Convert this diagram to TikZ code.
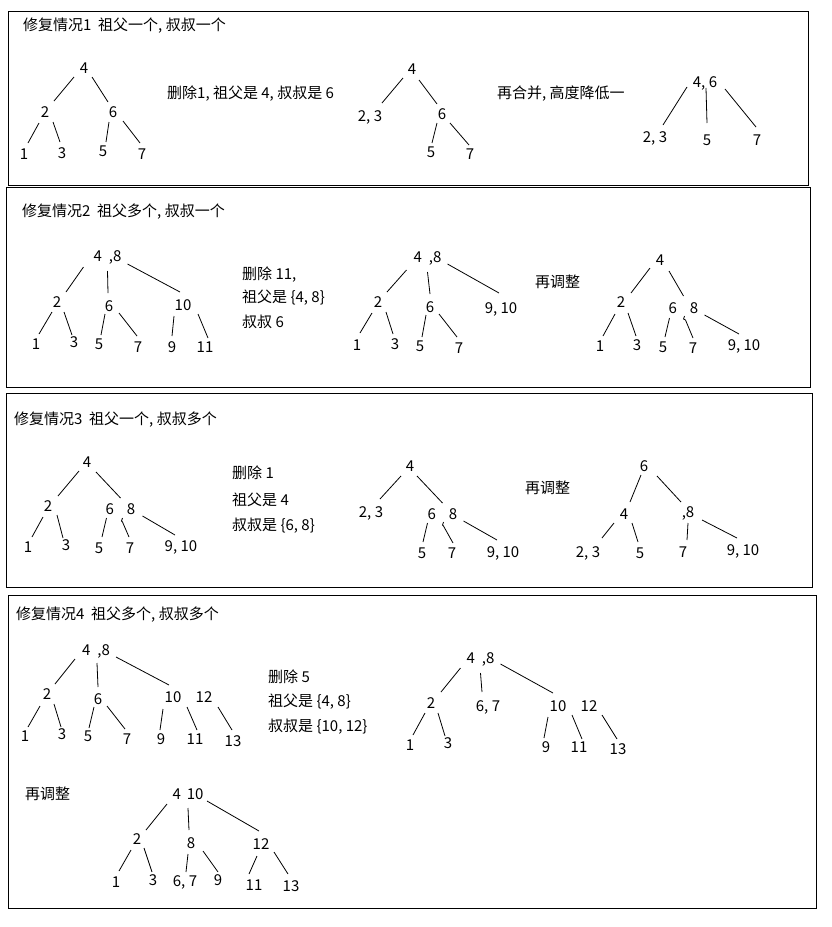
\documentclass[tikz,border=0pt]{standalone}
\usepackage{fontspec}
\setmainfont{Noto Sans CJK SC}
\newcommand\fs{\fontsize{15}{18}\selectfont}
\newcommand\linkab[4]{\draw[edge] ([shift={(#2)}]#1.center) -- ([shift={(#4)}]#3.center);}
\tikzset{
  num/.style={inner sep=0pt, font=\fs},
  txt/.style={inner sep=0pt, anchor=west, font=\fs},
  edge/.style={line width=0.8pt, black},
  frame/.style={line width=1pt, black}
}
\begin{document}
\begin{tikzpicture}[x=1pt,y=-1pt]
\useasboundingbox (0,0) rectangle (832,927);
\fill[white] (0,0) rectangle (832,927);
% frames
\draw[frame] (8,11) rectangle (808,185);
\draw[frame] (6,187) rectangle (810,387);
\draw[frame] (6,393) rectangle (812,587);
\draw[frame] (8,595) rectangle (816,908);

% ===== Box 1 =====
\node[txt] (title1) at (23,26) {修复情况1\ \ 祖父一个, 叔叔一个};
\node[num] (a4) at (84,68) {4};
\node[num] (a2) at (45,112) {2};
\node[num] (a6) at (113,112) {6};
\node[num] (a1) at (24,154) {1};
\node[num] (a3) at (62,153) {3};
\node[num] (a5) at (103,151) {5};
\node[num] (a7) at (142,154) {7};
\linkab{a4}{-10,9}{a2}{9,-11}
\linkab{a4}{8,9}{a6}{-5,-10}
\linkab{a2}{-6,11}{a1}{4,-11}
\linkab{a2}{8,10}{a3}{-2,-11}
\linkab{a6}{-4,10}{a5}{3,-9}
\linkab{a6}{10,9}{a7}{-2,-11}
\node[txt] (t1) at (167,94) {删除1, 祖父是 4, 叔叔是 6};
\node[num] (b4) at (412,69) {4};
\node[num] (b23) at (370,117) {2, 3};
\node[num] (b6) at (442,114) {6};
\node[num] (b5) at (431,152) {5};
\node[num] (b7) at (470,154) {7};
\linkab{b4}{-9,9}{b23}{12,-14}
\linkab{b4}{7,11}{b6}{-5,-10}
\linkab{b6}{-5,9}{b5}{1,-9}
\linkab{b6}{8,9}{b7}{-1,-9}
\node[txt] (t2) at (497,94) {再合并, 高度降低一};
\node[num] (c46) at (705,83) {4, 6};
\node[num] (c23) at (655,138) {2, 3};
\node[num] (c5) at (707,140) {5};
\node[num] (c7) at (757,140) {7};
\linkab{c46}{-18,4}{c23}{8,-13}
\linkab{c46}{1,5}{c5}{0,-17}
\linkab{c46}{20,6}{c7}{-1,-13}

% ===== Box 2 =====
\node[txt] (title2) at (22,212) {修复情况2\ \ 祖父多个, 叔叔一个};
\node[num] (d48) at (107.5,257) {4\hspace{7pt},8};
\node[num] (d2) at (57,302) {2};
\node[num] (d6) at (109,306) {6};
\node[num] (d10) at (183,305) {10};
\node[num] (d1) at (36,344) {1};
\node[num] (d3) at (74,342) {3};
\node[num] (d5) at (99,344) {5};
\node[num] (d7) at (138,347) {7};
\node[num] (d9) at (172,347) {9};
\node[num] (d11) at (205,347) {11};
\linkab{d48}{-24,10}{d2}{9,-10}
\linkab{d48}{0,14}{d6}{-1,-13}
\linkab{d48}{20,7}{d10}{-3,-13}
\linkab{d2}{-5,10}{d1}{3,-10}
\linkab{d2}{7,10}{d3}{-2,-7}
\linkab{d6}{-4,8}{d5}{2,-9}
\linkab{d6}{10,7}{d7}{-1,-11}
\linkab{d10}{-9,11}{d9}{0,-11}
\linkab{d10}{15,9}{d11}{3,-9}
\node[txt] (t3a) at (242,275) {删除 11,};
\node[txt] (t3b) at (242,298) {祖父是 \{4, 8\}};
\node[txt] (t3c) at (242,322) {叔叔 6};
\node[num] (e48) at (427.5,258) {4\hspace{7pt},8};
\node[num] (e2) at (378,302) {2};
\node[num] (e6) at (430,307) {6};
\node[num] (e910) at (501,309) {9, 10};
\node[num] (e1) at (357,345) {1};
\node[num] (e3) at (395,344) {3};
\node[num] (e5) at (420,346) {5};
\node[num] (e7) at (459,348) {7};
\linkab{e48}{-21,12}{e2}{9,-10}
\linkab{e48}{0,14}{e6}{0,-13}
\linkab{e48}{20,6}{e910}{-2,-16}
\linkab{e2}{-6,11}{e1}{3,-12}
\linkab{e2}{8,10}{e3}{-2,-10}
\linkab{e6}{-4,8}{e5}{2,-9}
\linkab{e6}{9,7}{e7}{-2,-11}
\node[txt] (t4) at (535,282) {再调整};
\node[num] (f4) at (660,260) {4};
\node[num] (f2) at (621,302) {2};
\node[num] (f68) at (683.5,308) {6\hspace{13pt}8};
\node[num] (f1) at (600,346) {1};
\node[num] (f3) at (637,345) {3};
\node[num] (f5) at (663,347) {5};
\node[num] (f7) at (693,348) {7};
\node[num] (f910) at (744,346) {9, 10};
\linkab{f4}{-10,8}{f2}{10,-9}
\linkab{f4}{9,11}{f68}{0,-12}
\linkab{f2}{-6,12}{f1}{3,-10}
\linkab{f2}{7,11}{f3}{-1,-9}
\linkab{f68}{-14,10}{f5}{2,-10}
\draw[edge] ([shift={(1,8)}]f68.center) -- ([shift={(0,11)}]f68.center) -- ([shift={(2,12)}]f68.center) -- ([shift={(0,-10)}]f7.center);
\linkab{f68}{21,7}{f910}{-5,-12}

% ===== Box 3 =====
\node[txt] (title3) at (14,420) {修复情况3\ \ 祖父一个, 叔叔多个};
\node[num] (g4) at (87,462) {4};
\node[num] (g2) at (48,506) {2};
\node[num] (g68) at (120.5,509) {6\hspace{13pt}8};
\node[num] (g1) at (28,547) {1};
\node[num] (g3) at (66,545) {3};
\node[num] (g5) at (99,548) {5};
\node[num] (g7) at (130,548) {7};
\node[num] (g910) at (181,547) {9, 10};
\linkab{g4}{-8,9}{g2}{10,-10}
\linkab{g4}{9,10}{g68}{0,-11}
\linkab{g2}{-5,11}{g1}{4,-10}
\linkab{g2}{9,9}{g3}{-3,-7}
\linkab{g68}{-14,9}{g5}{3,-11}
\draw[edge] ([shift={(2,9)}]g68.center) -- ([shift={(1,12)}]g68.center) -- ([shift={(2,13)}]g68.center) -- ([shift={(-1,-11)}]g7.center);
\linkab{g68}{22,7}{g910}{-6,-12}
\node[txt] (t5a) at (232,473) {删除 1};
\node[txt] (t5b) at (232,500) {祖父是 4};
\node[txt] (t5c) at (232,526) {叔叔是 \{6, 8\}};
\node[num] (h4) at (410,466) {4};
\node[num] (h23) at (371,513) {2, 3};
\node[num] (h68) at (442.5,514) {6\hspace{13pt}8};
\node[num] (h5) at (422,553) {5};
\node[num] (h7) at (452,553) {7};
\node[num] (h910) at (503,553) {9, 10};
\linkab{h4}{-9,10}{h23}{9,-14}
\linkab{h4}{7,10}{h68}{0,-11}
\linkab{h68}{-15,9}{h5}{1,-11}
\draw[edge] ([shift={(1,8)}]h68.center) -- ([shift={(0,11)}]h68.center) -- ([shift={(1,12)}]h68.center) -- ([shift={(1,-10)}]h7.center);
\linkab{h68}{21,7}{h910}{-6,-13}
\node[txt] (t6) at (525,488) {再调整};
\node[num] (i6) at (644,466) {6};
\node[num] (i4) at (624,514) {4};
\node[num] (i8) at (688,513) {,8};
\node[num] (i23) at (588,553) {2, 3};
\node[num] (i5) at (640,553) {5};
\node[num] (i7) at (683,552) {7};
\node[num] (i910) at (743,551) {9, 10};
\linkab{i6}{-3,9}{i4}{6,-12}
\linkab{i6}{13,10}{i8}{-7,-11}
\linkab{i4}{-10,9}{i23}{14,-15}
\linkab{i4}{8,9}{i5}{-2,-11}
\linkab{i8}{0,10}{i7}{4,-12}
\linkab{i8}{14,7}{i910}{-6,-13}

% ===== Box 4 =====
\node[txt] (title4) at (16,615) {修复情况4\ \ 祖父多个, 叔叔多个};
\node[num] (j48) at (96,651) {4\hspace{7pt},8};
\node[num] (j2) at (47,694) {2};
\node[num] (j6) at (98,699) {6};
\node[num] (j10) at (173,697) {10};
\node[num] (j12) at (204,697) {12};
\node[num] (j1) at (25,736) {1};
\node[num] (j3) at (62,734) {3};
\node[num] (j5) at (88,736) {5};
\node[num] (j7) at (127,739) {7};
\node[num] (j9) at (161,739) {9};
\node[num] (j11) at (195,739) {11};
\node[num] (j13) at (233,741) {13};
\linkab{j48}{-21,8}{j2}{8,-10}
\linkab{j48}{1,12}{j6}{0,-12}
\linkab{j48}{20,6}{j10}{-4,-12}
\linkab{j2}{-7,12}{j1}{3,-9}
\linkab{j2}{7,10}{j3}{-1,-7}
\linkab{j6}{-4,8}{j5}{1,-8}
\linkab{j6}{9,7}{j7}{-2,-10}
\linkab{j10}{-10,12}{j9}{-1,-9}
\linkab{j10}{14,10}{j11}{2,-9}
\linkab{j12}{14,10}{j13}{-1,-11}
\node[txt] (t7a) at (268,677) {删除 5};
\node[txt] (t7b) at (268,702) {祖父是 \{4, 8\}};
\node[txt] (t7c) at (268,727) {叔叔是 \{10, 12\}};
\node[num] (k48) at (480.5,659) {4\hspace{7pt},8};
\node[num] (k2) at (431,703) {2};
\node[num] (k67) at (488,707) {6, 7};
\node[num] (k10) at (558,706) {10};
\node[num] (k12) at (589,706) {12};
\node[num] (k1) at (410,745) {1};
\node[num] (k3) at (448,743) {3};
\node[num] (k9) at (546,747) {9};
\node[num] (k11) at (579,747) {11};
\node[num] (k13) at (618,749) {13};
\linkab{k48}{-20,9}{k2}{10,-11}
\linkab{k48}{0,14}{k67}{-6,-15}
\linkab{k48}{20,5}{k10}{-5,-13}
\linkab{k2}{-6,10}{k1}{3,-10}
\linkab{k2}{7,10}{k3}{-3,-7}
\linkab{k10}{-10,11}{k9}{-2,-9}
\linkab{k10}{14,9}{k11}{3,-8}
\linkab{k12}{13,9}{k13}{-1,-10}
\node[txt] (t8) at (25,794) {再调整};
\node[num] (l410) at (188,794) {4\hspace{6pt}10};
\node[num] (l2) at (137,839) {2};
\node[num] (l8) at (191,843) {8};
\node[num] (l12) at (261,844) {12};
\node[num] (l1) at (116,882) {1};
\node[num] (l3) at (153,880) {3};
\node[num] (l67) at (185,882) {6, 7};
\node[num] (l9) at (218,880) {9};
\node[num] (l11) at (254,885) {11};
\node[num] (l13) at (291,886) {13};
\linkab{l410}{-21,10}{l2}{9,-9}
\linkab{l410}{0,14}{l8}{-2,-13}
\linkab{l410}{19,7}{l12}{-2,-13}
\linkab{l2}{-6,11}{l1}{3,-11}
\linkab{l2}{7,9}{l3}{-1,-8}
\linkab{l8}{-3,11}{l67}{1,-10}
\linkab{l8}{12,8}{l9}{0,-8}
\linkab{l12}{-4,12}{l11}{-5,-11}
\linkab{l12}{13,8}{l13}{-3,-12}
\end{tikzpicture}
\end{document}
